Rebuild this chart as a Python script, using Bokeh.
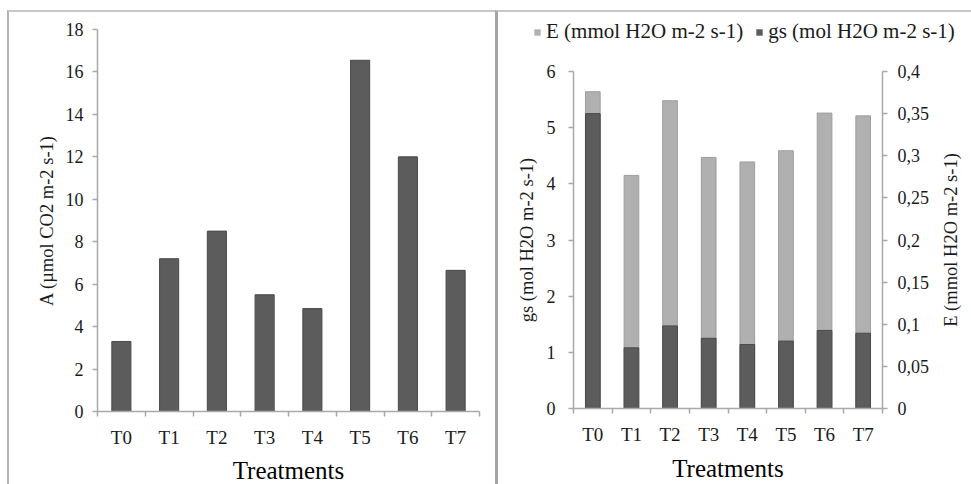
from bokeh.plotting import figure
from bokeh.models import Range1d, FixedTicker, LinearAxis, Legend, LegendItem, CustomJSTickFormatter, Spacer
from bokeh.layouts import row, column
from bokeh.embed import file_html
from bokeh.resources import INLINE

categories = ["T0", "T1", "T2", "T3", "T4", "T5", "T6", "T7"]
A_values = [3.3, 7.2, 8.5, 5.5, 4.85, 16.55, 12.0, 6.65]
E_values = [5.64, 4.15, 5.48, 4.47, 4.39, 4.59, 5.26, 5.21]
gs_values = [5.25, 1.08, 1.47, 1.25, 1.14, 1.2, 1.39, 1.34]
A_ticks = [0, 2, 4, 6, 8, 10, 12, 14, 16, 18]
gs_ticks = [0, 1, 2, 3, 4, 5, 6]
E_ticks = [0, 0.05, 0.1, 0.15, 0.2, 0.25, 0.3, 0.35, 0.4]
legend_labels = ["E (mmol H2O m-2 s-1)", "gs (mol H2O m-2 s-1)"]

FONT = "Liberation Serif"
DARK = "#5c5c5c"
LIGHT = "#b0b0b0"
AXIS = "#a9a9a9"
TXT = "#1a1a1a"
YLAB = "18.5px"

n = len(categories)
xs = [i + 0.5 for i in range(n)]
bounds = list(range(n + 1))
overrides = {x: c for x, c in zip(xs, categories)}


def style_x(p):
    ax = p.xaxis[0]
    ax.ticker = FixedTicker(ticks=xs, minor_ticks=bounds)
    ax.major_label_overrides = overrides
    ax.major_tick_out = 0
    ax.major_tick_in = 0
    ax.minor_tick_out = 5
    ax.minor_tick_in = 0
    ax.minor_tick_line_color = AXIS
    ax.minor_tick_line_width = 1.5
    ax.axis_line_color = AXIS
    ax.axis_line_width = 1.5
    ax.major_label_text_font = FONT
    ax.major_label_text_font_size = "19px"
    ax.major_label_text_color = TXT
    ax.major_label_standoff = 10
    ax.axis_label = "Treatments"
    ax.axis_label_text_font = FONT
    ax.axis_label_text_font_size = "25px"
    ax.axis_label_text_font_style = "normal"
    ax.axis_label_text_color = "#000000"


def style_y(ax, ticks, standoff, label_standoff):
    ax.ticker = FixedTicker(ticks=ticks)
    ax.minor_tick_line_color = None
    ax.major_tick_out = 5
    ax.major_tick_in = 0
    ax.major_tick_line_color = AXIS
    ax.major_tick_line_width = 1.5
    ax.axis_line_color = AXIS
    ax.axis_line_width = 1.5
    ax.major_label_text_font = FONT
    ax.major_label_text_font_size = "18px"
    ax.major_label_text_color = TXT
    ax.major_label_standoff = standoff
    ax.axis_label_text_font = FONT
    ax.axis_label_text_font_size = YLAB
    ax.axis_label_text_font_style = "normal"
    ax.axis_label_text_color = TXT
    ax.axis_label_standoff = label_standoff


# ---------------- left panel ----------------
p1 = figure(width=488, height=474, output_backend="svg", toolbar_location=None,
            x_range=Range1d(0, n), y_range=Range1d(0, 18),
            min_border_left=88, min_border_right=18, min_border_top=17, min_border_bottom=75)
p1.vbar(x=xs, top=A_values, width=0.4, fill_color=DARK, line_color="#4a4a4a", line_width=1)
p1.xgrid.visible = False
p1.ygrid.visible = False
p1.outline_line_color = None
style_x(p1)
p1.xaxis[0].axis_label_standoff = 6
style_y(p1.yaxis[0], A_ticks, 9, 6)
p1.yaxis[0].axis_label = "A (µmol CO2 m-2 s-1)"
p1.styles = {"border-top": "2px solid #c8c8c8", "border-left": "2px solid #b4b4b4", "box-sizing": "border-box"}

# ---------------- right panel: legend strip ----------------
pL = figure(width=476, height=50, output_backend="svg", toolbar_location=None,
            x_range=Range1d(0, 1), y_range=Range1d(100, 101),
            x_axis_type=None, y_axis_type=None,
            min_border_left=0, min_border_right=0, min_border_top=0, min_border_bottom=0)
try:
    pL.frame_align = False
except Exception:
    pass
pL.xgrid.visible = False
pL.ygrid.visible = False
pL.outline_line_color = None
# legend keys: same series, drawn below this strip's visible range so only the keys show
dE = pL.vbar(x=xs, top=E_values, width=0.38, fill_color=LIGHT, line_color=None)
dgs = pL.vbar(x=xs, top=gs_values, width=0.38, fill_color=DARK, line_color=None)
legend = Legend(items=[LegendItem(label=legend_labels[0], renderers=[dE]),
                       LegendItem(label=legend_labels[1], renderers=[dgs])],
                orientation="horizontal", location=(35, 18),
                glyph_width=8, glyph_height=8, label_text_font=FONT,
                label_text_font_size="21px", label_text_color=TXT,
                background_fill_alpha=0, border_line_color=None,
                spacing=12, padding=0, margin=0, label_standoff=5)
pL.add_layout(legend, "center")
pL.styles = {"border-top": "2px solid #c8c8c8", "border-left": "3px solid #a4a4a4", "box-sizing": "border-box"}

# ---------------- right panel: chart ----------------
p2 = figure(width=441, height=424, output_backend="svg", toolbar_location=None,
            x_range=Range1d(0, n), y_range=Range1d(0, 6),
            min_border_left=75, min_border_right=57, min_border_top=11, min_border_bottom=75)
p2.extra_y_ranges = {"E": Range1d(0, 0.4)}
p2.vbar(x=xs, top=E_values, width=0.38, fill_color=LIGHT, line_color="#9e9e9e", line_width=1)
p2.vbar(x=xs, top=gs_values, width=0.38, fill_color=DARK, line_color="#4a4a4a", line_width=1)
p2.xgrid.visible = False
p2.ygrid.visible = False
p2.outline_line_color = None
style_x(p2)
p2.xaxis[0].axis_label_standoff = 7
style_y(p2.yaxis[0], gs_ticks, 13, 7)
p2.yaxis[0].axis_label = "gs (mol H2O m-2 s-1)"

axE = LinearAxis(y_range_name="E")
style_y(axE, E_ticks, 10, 8)
axE.formatter = CustomJSTickFormatter(code="""
let s = tick.toFixed(2);
s = s.replace(/0+$/, '').replace(/\\.$/, '');
return s.replace('.', ',');
""")
p2.add_layout(axE, "right")
p2.styles = {"border-left": "3px solid #a4a4a4", "box-sizing": "border-box"}

# ---------------- right panel: label strip for the E axis ----------------
pR = figure(width=35, height=424, output_backend="svg", toolbar_location=None,
            x_range=Range1d(0, 1), y_range=Range1d(0, 0.4),
            x_axis_type=None,
            min_border_left=24, min_border_right=0, min_border_top=11, min_border_bottom=75)
pR.xgrid.visible = False
pR.ygrid.visible = False
pR.outline_line_color = None
axR = pR.yaxis[0]
axR.ticker = FixedTicker(ticks=[])
axR.major_label_text_font_size = "0px"
axR.major_tick_line_color = None
axR.minor_tick_line_color = None
axR.axis_line_color = None
axR.major_label_standoff = 0
axR.axis_label = "E (mmol H2O m-2 s-1)"
axR.axis_label_text_font = FONT
axR.axis_label_text_font_size = YLAB
axR.axis_label_text_font_style = "normal"
axR.axis_label_text_color = TXT
axR.axis_label_standoff = 0

right_side = column(pL, row(p2, pR, spacing=0), spacing=0)
layout = column(Spacer(height=10), row(Spacer(width=7), p1, right_side, spacing=0), spacing=0)
open("out.html", "w").write(file_html(layout, INLINE))
